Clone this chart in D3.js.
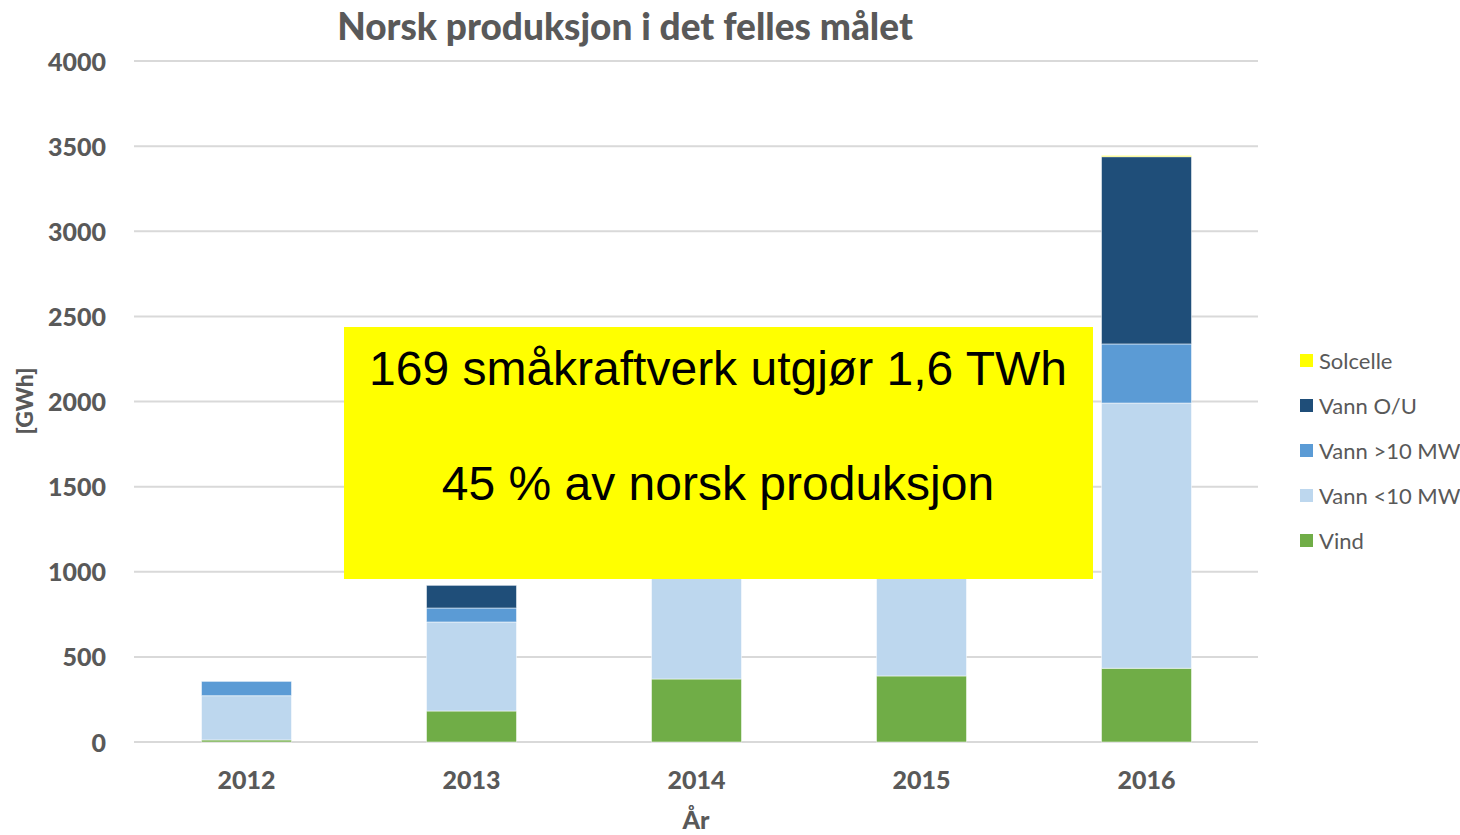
<!DOCTYPE html>
<html><head><meta charset="utf-8">
<script src="https://cdn.jsdelivr.net/npm/d3@7/dist/d3.min.js"></script>
<style>body{margin:0;background:#fff}svg{display:block}</style>
</head><body>
<svg id="c" width="1460" height="835"></svg>
<script>
const years = ["2012","2013","2014","2015","2016"];
const vind     = [12, 182, 370, 388, 433];
const vannLt10 = [260, 523, 1050, 1100, 1558];
const vannGt10 = [84, 82, 200, 250, 347];
const vannOU   = [0, 133, 150, 300, 1100];
const solcelle = [0, 0, 0, 0, 6];
const yTicks = [0,500,1000,1500,2000,2500,3000,3500,4000];
const seriesNames = ["Vind","Vann <10 MW","Vann >10 MW","Vann O/U","Solcelle"];
const seriesColors = ["#70ad47","#bdd7ee","#5b9bd5","#1f4e79","#ffff00"];
const legendOrder = ["Solcelle","Vann O/U","Vann >10 MW","Vann <10 MW","Vind"];

const svg = d3.select("#c");
const font = "Lato, 'Open Sans', sans-serif";
const grey = "#595959";

const x = d3.scaleBand().domain(years).range([134, 1259]).paddingInner(0.6).paddingOuter(0.3);
const y = d3.scaleLinear().domain([0,4000]).range([742, 61]);

// gridlines
svg.append("g").selectAll("line").data(yTicks).join("line")
  .attr("x1",134).attr("x2",1258)
  .attr("y1",d=>y(d)).attr("y2",d=>y(d))
  .attr("stroke","#d9d9d9").attr("stroke-width",2);

// y axis labels
const yAxis = d3.axisLeft(y).tickValues(yTicks).tickFormat(d3.format("d")).tickSize(0).tickPadding(0);
const ya = svg.append("g").attr("transform","translate(106,0)").call(yAxis);
ya.select(".domain").remove();
ya.selectAll("text").attr("font-family",font).attr("font-weight","900")
  .attr("font-size",25).attr("fill",grey).attr("dy","0.36em");

// stacked data
const rows = years.map((yr,i)=>({year:yr,"Vind":vind[i],"Vann <10 MW":vannLt10[i],"Vann >10 MW":vannGt10[i],"Vann O/U":vannOU[i],"Solcelle":solcelle[i]}));
const stack = d3.stack().keys(seriesNames)(rows);
const color = d3.scaleOrdinal().domain(seriesNames).range(seriesColors);

svg.append("g").selectAll("g").data(stack).join("g")
  .attr("fill",d=>color(d.key))
  .selectAll("rect").data(d=>d.filter(p=>p[1]-p[0]>0)).join("rect")
  .attr("x",d=>x(d.data.year)).attr("width",x.bandwidth())
  .attr("y",d=>y(d[1])).attr("height",d=>y(d[0])-y(d[1]))
  .attr("stroke","rgba(255,255,255,0.5)").attr("stroke-width",1);

// x axis labels
const xAxis = d3.axisBottom(x).tickSize(0).tickPadding(0);
const xa = svg.append("g").attr("transform","translate(0,790)").call(xAxis);
xa.select(".domain").remove();
xa.selectAll("text").attr("font-family",font).attr("font-weight","900")
  .attr("font-size",25).attr("fill",grey).attr("dy","-0.05em").attr("y",0);

// axis titles
svg.append("text").attr("x",696).attr("y",829).attr("text-anchor","middle")
  .attr("font-family",font).attr("font-weight","900").attr("font-size",25).attr("fill",grey).text("År");
svg.append("text").attr("transform","translate(33,401) rotate(-90)").attr("text-anchor","middle")
  .attr("font-family",font).attr("font-weight","900").attr("font-size",23).attr("fill",grey).text("[GWh]");

// title
svg.append("text").attr("x",625).attr("y",40).attr("text-anchor","middle")
  .attr("font-family",font).attr("font-weight","900").attr("font-size",37).attr("fill",grey)
  .text("Norsk produksjon i det felles målet");

// legend
const lg = svg.append("g").selectAll("g").data(legendOrder).join("g")
  .attr("transform",(d,i)=>`translate(1300,${361+i*45})`);
lg.append("rect").attr("x",0).attr("y",-7).attr("width",13).attr("height",13).attr("fill",d=>color(d));
lg.append("text").attr("x",19).attr("y",0).attr("dy","0.35em")
  .attr("font-family",font).attr("font-size",22).attr("fill",grey).text(d=>d);

// annotation box
svg.append("rect").attr("x",344).attr("y",327).attr("width",749).attr("height",252).attr("fill","#ffff00");
svg.append("text").attr("x",718).attr("y",385).attr("text-anchor","middle")
  .attr("font-family","'Liberation Sans', Arial, sans-serif").attr("font-size",48).attr("fill","#000")
  .text("169 småkraftverk utgjør 1,6 TWh");
svg.append("text").attr("x",718).attr("y",500).attr("text-anchor","middle")
  .attr("font-family","'Liberation Sans', Arial, sans-serif").attr("font-size",48).attr("fill","#000")
  .text("45 % av norsk produksjon");
</script>
</body></html>
